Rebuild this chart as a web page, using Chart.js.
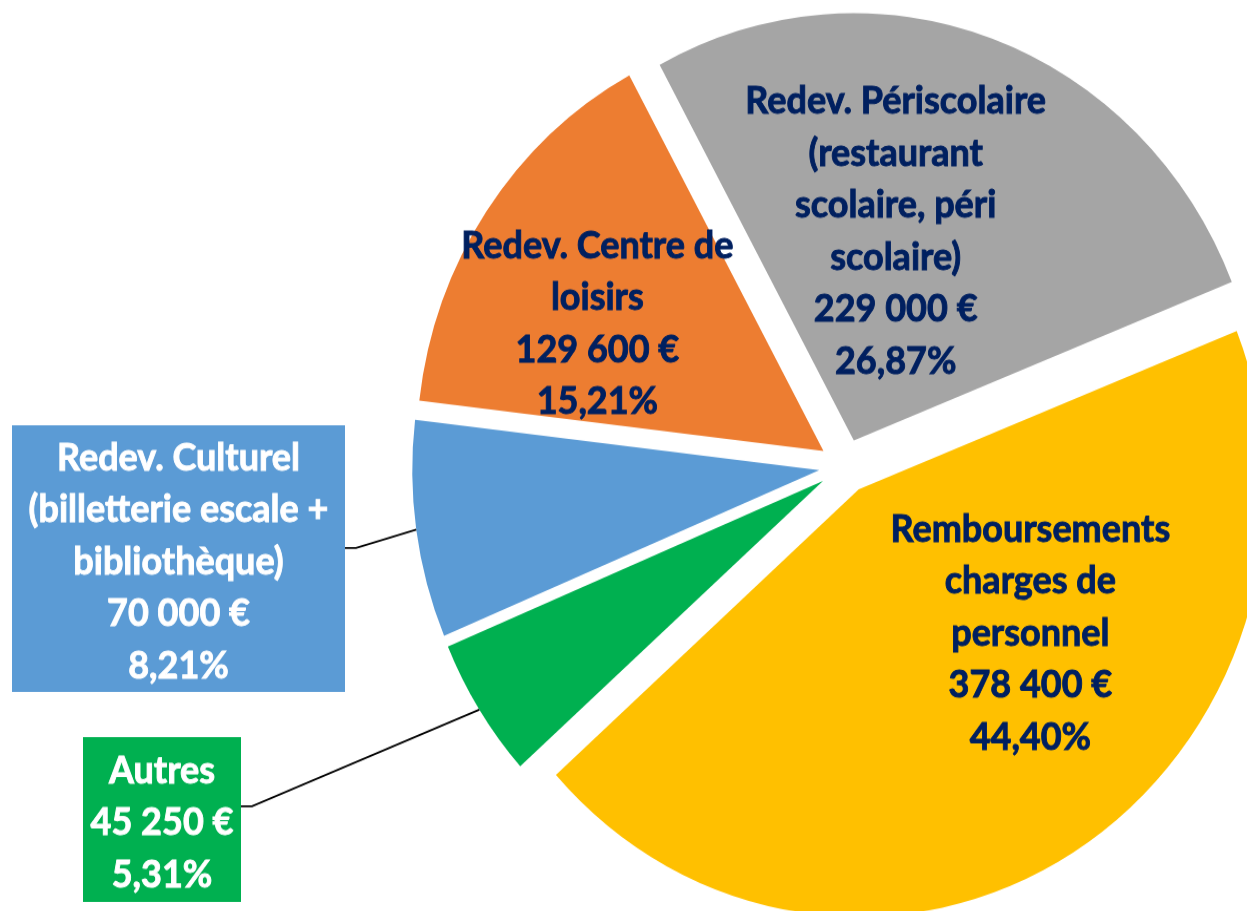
<!DOCTYPE html>
<html>
<head>
<meta charset="utf-8">
<script src="https://cdn.jsdelivr.net/npm/chart.js@4.4.0/dist/chart.umd.min.js"></script>
<style>
  html, body { margin: 0; padding: 0; background: #fff; overflow: hidden; width: 1247px; height: 911px; }
  #wrap { position: absolute; left: 0; top: 0; transform: scale(1, 1.05); transform-origin: 0 0; }
</style>
</head>
<body>
<div id="wrap"><canvas id="recettes" width="1300" height="900"></canvas></div>
<script>
// slices, clockwise from the top-left gap
const labelLines = [
  ['Redev. Périscolaire', '(restaurant', 'scolaire, péri', 'scolaire)'],
  ['Remboursements', 'charges de', 'personnel'],
  ['Autres'],
  ['Redev. Culturel', '(billetterie escale +', 'bibliothèque)'],
  ['Redev. Centre de', 'loisirs']
];
const values = [229000, 378400, 45250, 70000, 129600];
const colors = ['#A5A5A5', '#FFC000', '#00B050', '#5B9BD5', '#ED7D31'];

const EXPLODE = 26;
const FONT = 'bold 36px Lato, "Open Sans", sans-serif';
const LINE_H = 49.5;
const TEXT_DARK = '#002060';

// inside labels: [angle shift from slice middle (deg), fraction of radius]; null = boxed outside
const insideAt = [[-8, 0.50], [-19.5, 0.54], null, null, [-6, 0.63]];
// outside boxes (canvas units) with elbow of the leader line as fraction of box height
const boxes = [null, null,
  { x: 83, y: 702, w: 158, h: 157, elbow: 0.42 },
  { x: 12, y: 405, w: 333, h: 254, elbow: 0.46 },
  null];

const total = values.reduce((a, b) => a + b, 0);
function fmtEuro(v) { return String(v).replace(/\B(?=(\d{3})+(?!\d))/g, ' ') + ' €'; }
function fmtPct(v) { return (v / total * 100).toFixed(2).replace('.', ',') + '%'; }

const explodePlugin = {
  id: 'explode',
  afterDatasetsUpdate(chart) {
    chart.getDatasetMeta(0).data.forEach(arc => {
      const mid = (arc.startAngle + arc.endAngle) / 2;
      arc.x += EXPLODE * Math.cos(mid);
      arc.y += EXPLODE * Math.sin(mid);
    });
  }
};

function drawLines(ctx, lines, cx, cy, color) {
  ctx.fillStyle = color;
  ctx.strokeStyle = color;
  ctx.lineWidth = 0.9;
  const top = cy - (lines.length - 1) * LINE_H / 2;
  lines.forEach((t, i) => {
    ctx.fillText(t, cx, top + i * LINE_H);
    ctx.strokeText(t, cx, top + i * LINE_H);
  });
}

const labelPlugin = {
  id: 'sliceLabels',
  afterDraw(chart) {
    const ctx = chart.ctx;
    ctx.save();
    ctx.font = FONT;
    ctx.textAlign = 'center';
    ctx.textBaseline = 'middle';
    chart.getDatasetMeta(0).data.forEach((arc, i) => {
      const lines = labelLines[i].concat([fmtEuro(values[i]), fmtPct(values[i])]);
      const mid = (arc.startAngle + arc.endAngle) / 2;
      if (insideAt[i]) {
        const a = mid + insideAt[i][0] * Math.PI / 180;
        const r = arc.outerRadius * insideAt[i][1];
        drawLines(ctx, lines, arc.x + r * Math.cos(a), arc.y + r * Math.sin(a), TEXT_DARK);
      } else if (boxes[i]) {
        const b = boxes[i];
        const ex = arc.x + arc.outerRadius * Math.cos(mid);
        const ey = arc.y + arc.outerRadius * Math.sin(mid);
        const ly = b.y + b.h * b.elbow;
        ctx.strokeStyle = '#000';
        ctx.lineWidth = 1.8;
        ctx.beginPath();
        ctx.moveTo(b.x + b.w, ly);
        ctx.lineTo(b.x + b.w + 11, ly);
        ctx.lineTo(ex, ey);
        ctx.stroke();
        ctx.fillStyle = colors[i];
        ctx.fillRect(b.x, b.y, b.w, b.h);
        drawLines(ctx, lines, b.x + b.w / 2, b.y + b.h / 2 + 3, '#fff');
      }
    });
    ctx.restore();
  }
};

new Chart(document.getElementById('recettes'), {
  type: 'pie',
  data: {
    labels: labelLines.map(l => l.join(' ')),
    datasets: [{ data: values, backgroundColor: colors, borderWidth: 0, hoverOffset: 0, offset: 0 }]
  },
  options: {
    responsive: false,
    animation: false,
    events: [],
    rotation: -28.5,
    layout: { padding: { left: 438, right: 48, top: 37, bottom: 49 } },
    plugins: { legend: { display: false }, tooltip: { enabled: false } }
  },
  plugins: [explodePlugin, labelPlugin]
});
</script>
</body>
</html>
